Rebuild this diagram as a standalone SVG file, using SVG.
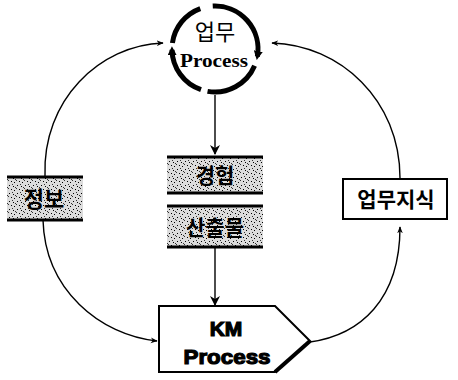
<svg xmlns="http://www.w3.org/2000/svg" width="458" height="380" viewBox="0 0 458 380">
<style>
.conn{fill:none;stroke:#000;stroke-width:1.4}
.kr{font-family:"Liberation Sans","Noto Sans CJK KR",sans-serif;fill:#000;text-anchor:middle}
.bar{stroke:#000;stroke-width:3}
.km{font-family:"Liberation Sans",sans-serif;font-weight:bold;font-size:21px;text-anchor:middle;stroke:#000;stroke-width:1.2}
.arc{fill:none;stroke:#000;stroke-width:5}
</style>
<defs>
<marker id="ah" viewBox="0 0 10 10" refX="9" refY="5" markerWidth="7" markerHeight="7" orient="auto" markerUnits="userSpaceOnUse">
<path d="M0,1 L10,5 L0,9 L3,5 Z" fill="#000"/>
</marker>
<marker id="ahb" viewBox="0 0 10 10" refX="9" refY="5" markerWidth="10" markerHeight="10" orient="auto" markerUnits="userSpaceOnUse">
<path d="M0,0 L10,5 L0,10 L3,5 Z" fill="#000"/>
</marker>
<marker id="arcah" viewBox="0 0 10 10" refX="6" refY="5" markerWidth="9" markerHeight="9" orient="auto" markerUnits="userSpaceOnUse">
<path d="M0,0 L10,5 L0,10 Z" fill="#000"/>
</marker>
<pattern id="stip" width="8" height="8" patternUnits="userSpaceOnUse">
<rect width="8" height="8" fill="#dcdcdc"/>
<rect x="1" y="1" width="1" height="1" fill="#000"/>
<rect x="5" y="2" width="1" height="1" fill="#000"/>
<rect x="3" y="5" width="1" height="1" fill="#000"/>
<rect x="6" y="6" width="1" height="1" fill="#000"/>
<rect x="0" y="4" width="1" height="1" fill="#333"/>
<rect x="4" y="0" width="1" height="1" fill="#333"/>
<rect x="7" y="3" width="1" height="1" fill="#333"/>
</pattern>
</defs>
<g id="connectors">
<path class="conn" d="M45,176 C42,100 100,45 163,43" marker-end="url(#ah)"/>
<path class="conn" d="M43,220 C45,290 100,335 157,341" marker-end="url(#ah)"/>
<path class="conn" d="M310,342 C360,335 400,300 400,227" marker-end="url(#ah)"/>
<path class="conn" d="M400,178 C400,100 340,45 272,43" marker-end="url(#ah)"/>
<path class="conn" d="M215,95 L215,154" marker-end="url(#ahb)"/>
<path class="conn" d="M215,248 L215,305" marker-end="url(#ahb)"/>
</g>
<g id="work-process">
<path class="arc" d="M212.75,6.06 A43,43 0 0 1 257.35,56.47" marker-end="url(#arcah)"/>
<path class="arc" d="M254.58,65.8 A43,43 0 0 1 207.53,91.35"/>
<path class="arc" d="M201,89.66 A43,43 0 0 1 172.01,49.75" marker-end="url(#arcah)"/>
<path class="arc" d="M172.42,43.02 A43,43 0 0 1 200.29,8.59"/>
<text class="kr" x="215" y="40" font-size="22">업무</text>
<text x="214" y="67" font-family="Liberation Serif,serif" font-weight="bold" font-size="19" text-anchor="middle" textLength="68" lengthAdjust="spacingAndGlyphs">Process</text>
</g>
<g id="experience">
<rect x="167" y="157" width="96" height="36" fill="url(#stip)"/>
<line class="bar" x1="167" y1="157" x2="263" y2="157"/>
<line class="bar" x1="167" y1="193" x2="263" y2="193"/>
<text class="kr" x="215" y="183" font-size="21" font-weight="bold">경험</text>
</g>
<g id="output">
<rect x="167" y="206" width="96" height="41" fill="url(#stip)"/>
<line class="bar" x1="167" y1="206" x2="263" y2="206"/>
<line class="bar" x1="167" y1="247" x2="263" y2="247"/>
<text class="kr" x="215" y="235" font-size="21" font-weight="bold">산출물</text>
</g>
<g id="info">
<rect x="7" y="177" width="76" height="43" fill="url(#stip)"/>
<line class="bar" x1="7" y1="177" x2="83" y2="177"/>
<line class="bar" x1="7" y1="220" x2="83" y2="220"/>
<text class="kr" x="44" y="207" font-size="22" font-weight="bold">정보</text>
</g>
<g id="work-knowledge">
<rect x="343" y="179" width="104" height="40" fill="#fff" stroke="#000" stroke-width="2"/>
<text class="kr" x="396" y="207" font-size="21" font-weight="bold">업무지식</text>
</g>
<g id="km-process">
<path d="M159,306 L275,306 L310,341 L275,372 L159,372 Z" fill="#fff" stroke="#000" stroke-width="2"/>
<line x1="310" y1="341" x2="275" y2="372" stroke="#000" stroke-width="4"/>
<text class="km" x="226" y="336">KM</text>
<text class="km" x="227" y="364" textLength="87" lengthAdjust="spacingAndGlyphs">Process</text>
</g>
</svg>
